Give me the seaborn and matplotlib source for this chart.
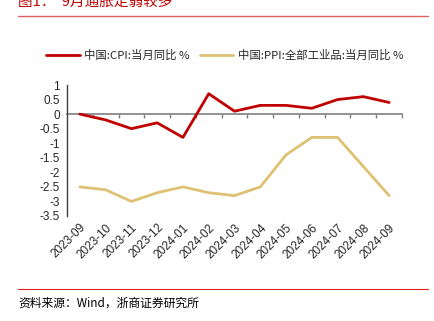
import matplotlib
matplotlib.use("Agg")
import matplotlib.pyplot as plt
import seaborn as sns
import pandas as pd
import numpy as np
from matplotlib.ticker import FuncFormatter
from matplotlib.lines import Line2D

months = ["2023-09", "2023-10", "2023-11", "2023-12", "2024-01", "2024-02", "2024-03",
          "2024-04", "2024-05", "2024-06", "2024-07", "2024-08", "2024-09"]
cpi = [0.0, -0.2, -0.5, -0.3, -0.8, 0.7, 0.1, 0.3, 0.3, 0.2, 0.5, 0.6, 0.4]
ppi = [-2.5, -2.6, -3.0, -2.7, -2.5, -2.7, -2.8, -2.5, -1.4, -0.8, -0.8, -1.8, -2.8]
series_names = ["中国:CPI:当月同比 %", "中国:PPI:全部工业品:当月同比 %"]
title = "图1：  9月通胀走弱较多"
source = "资料来源：Wind，浙商证券研究所"

sns.set_style("white")
plt.rcParams['font.family'] = ['Liberation Sans', 'Noto Sans CJK SC', 'DejaVu Sans']

df = pd.DataFrame({"month": months * 2,
                   "value": cpi + ppi,
                   "series": [series_names[0]] * len(months) + [series_names[1]] * len(months)})
df["x"] = list(range(len(months))) * 2

W, H = 434, 321
fig = plt.figure(figsize=(W / 100, H / 100), dpi=100)
ax = fig.add_axes([67 / W, 1 - 216 / H, (402 - 67) / W, (216 - 85) / H])

palette = {series_names[0]: "#C00000", series_names[1]: "#DFC173"}

ax.set_xlim(-0.5, len(months) - 0.5)
ax.set_ylim(-3.5, 1)

# zero line with boundary ticks (secondary axis placed at y = 0)
zero_loc = (0 - (-3.5)) / 4.5
sec = ax.secondary_xaxis(zero_loc)
sec.set_xticks(np.arange(-0.5, len(months), 1.0)[1:])
sec.set_xticklabels([])
sec.tick_params(direction="in", length=3, width=1, color="#808080")
for s in sec.spines:
    sec.spines[s].set_visible(False)
sec.spines["top"].set_visible(True)
sec.spines["top"].set_color("#808080")
sec.spines["top"].set_linewidth(1.2)

sns.lineplot(data=df, x="x", y="value", hue="series", palette=palette, ax=ax,
             linewidth=2.0, legend=False, zorder=3)

ax.set_yticks(np.arange(-3.5, 1.01, 0.5))
ax.yaxis.set_major_formatter(FuncFormatter(lambda v, p: f"{v:g}"))
ax.set_xticks(range(len(months)))
ax.set_xticklabels(months, rotation=45, ha="right", rotation_mode="anchor", fontsize=8.5)
ax.tick_params(axis="x", length=0, pad=4)
ax.tick_params(axis="y", direction="out", length=3, width=1, color="#404040", labelsize=8.5, pad=2)
ax.set_xlabel("")
ax.set_ylabel("")
for s in ["top", "right", "bottom"]:
    ax.spines[s].set_visible(False)
ax.spines["left"].set_color("#404040")
ax.spines["left"].set_linewidth(1.0)

# legend
handles = [Line2D([], [], color=palette[n], linewidth=2.0) for n in series_names]
leg = fig.legend(handles, series_names, loc="center", bbox_to_anchor=(0.518, 1 - 55 / H),
                 ncol=2, frameon=False, handlelength=2.9, columnspacing=0.9,
                 handletextpad=0.4, prop={"family": ["Noto Sans CJK SC", "DejaVu Sans"], "size": 8.2})

# title and rules
fig.text(18 / W, 1 - 6 / H, title, color="#C00000", fontsize=10.5,
         family=["Noto Sans CJK SC", "DejaVu Sans"], va="baseline", ha="left")
fig.add_artist(Line2D([18 / W, 428 / W], [1 - 15.5 / H, 1 - 15.5 / H], color="#E06060", linewidth=1.0))
fig.add_artist(Line2D([18 / W, 428 / W], [1 - 289 / H, 1 - 289 / H], color="#E02020", linewidth=0.8))
fig.text(18 / W, 1 - 303 / H, source, color="#000000", fontsize=8.5,
         family=["Noto Sans CJK SC", "DejaVu Sans"], va="center", ha="left")

fig.savefig("out.png", dpi=100)
